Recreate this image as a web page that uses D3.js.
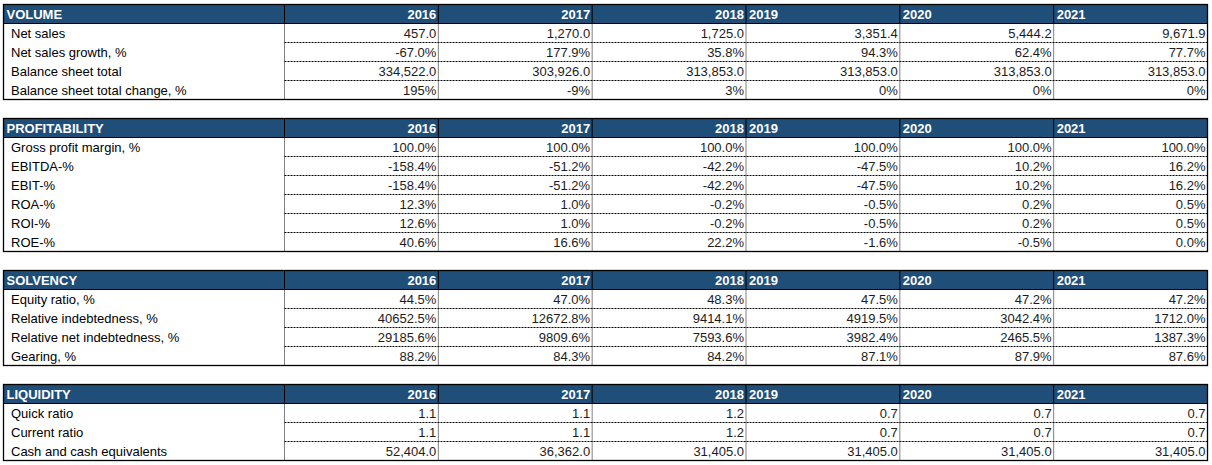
<!DOCTYPE html>
<html>
<head>
<meta charset="utf-8">
<script src="https://cdn.jsdelivr.net/npm/d3@7/dist/d3.min.js"></script>
<style>
  html, body { margin: 0; padding: 0; background: #fff; }
  svg { display: block; }
  text { font-family: "Liberation Sans", Arial, sans-serif; }
</style>
</head>
<body>
<svg id="chart" width="1212" height="465"></svg>
<script>
// ---------- DATA ----------
const years = ["2016", "2017", "2018", "2019", "2020", "2021"];
const yearAlign = ["right", "right", "right", "left", "left", "left"];

const sectionTitles = ["VOLUME", "PROFITABILITY", "SOLVENCY", "LIQUIDITY"];

const volumeLabels = ["Net sales", "Net sales growth, %", "Balance sheet total", "Balance sheet total change, %"];
const volumeFormats = ["num1", "pct1", "num1", "pct0"];
const volumeValues = [
  [457.0, 1270.0, 1725.0, 3351.4, 5444.2, 9671.9],
  [-67.0, 177.9, 35.8, 94.3, 62.4, 77.7],
  [334522.0, 303926.0, 313853.0, 313853.0, 313853.0, 313853.0],
  [195, -9, 3, 0, 0, 0]
];

const profitabilityLabels = ["Gross profit margin, %", "EBITDA-%", "EBIT-%", "ROA-%", "ROI-%", "ROE-%"];
const profitabilityFormats = ["pct1", "pct1", "pct1", "pct1", "pct1", "pct1"];
const profitabilityValues = [
  [100.0, 100.0, 100.0, 100.0, 100.0, 100.0],
  [-158.4, -51.2, -42.2, -47.5, 10.2, 16.2],
  [-158.4, -51.2, -42.2, -47.5, 10.2, 16.2],
  [12.3, 1.0, -0.2, -0.5, 0.2, 0.5],
  [12.6, 1.0, -0.2, -0.5, 0.2, 0.5],
  [40.6, 16.6, 22.2, -1.6, -0.5, 0.0]
];

const solvencyLabels = ["Equity ratio, %", "Relative indebtedness, %", "Relative net indebtedness, %", "Gearing, %"];
const solvencyFormats = ["pct1", "pct1", "pct1", "pct1"];
const solvencyValues = [
  [44.5, 47.0, 48.3, 47.5, 47.2, 47.2],
  [40652.5, 12672.8, 9414.1, 4919.5, 3042.4, 1712.0],
  [29185.6, 9809.6, 7593.6, 3982.4, 2465.5, 1387.3],
  [88.2, 84.3, 84.2, 87.1, 87.9, 87.6]
];

const liquidityLabels = ["Quick ratio", "Current ratio", "Cash and cash equivalents"];
const liquidityFormats = ["num1", "num1", "num1"];
const liquidityValues = [
  [1.1, 1.1, 1.2, 0.7, 0.7, 0.7],
  [1.1, 1.1, 1.2, 0.7, 0.7, 0.7],
  [52404.0, 36362.0, 31405.0, 31405.0, 31405.0, 31405.0]
];

const sections = [
  { title: sectionTitles[0], labels: volumeLabels, formats: volumeFormats, values: volumeValues },
  { title: sectionTitles[1], labels: profitabilityLabels, formats: profitabilityFormats, values: profitabilityValues },
  { title: sectionTitles[2], labels: solvencyLabels, formats: solvencyFormats, values: solvencyValues },
  { title: sectionTitles[3], labels: liquidityLabels, formats: liquidityFormats, values: liquidityValues }
];

// ---------- FORMATTERS ----------
const fmts = {
  num1: d3.format(",.1f"),
  pct1: v => d3.format(".1f")(v) + "%",
  pct0: v => d3.format(".0f")(v) + "%"
};
const fmt = (key, v) => fmts[key](v).replace("\u2212", "-");

// ---------- LAYOUT ----------
const svg = d3.select("#chart");
const rowH = 19;
const top0 = 4.5;
const labelLeft = 3.5, labelRight = 284.5, tableRight = 1207.5;

// row index -> y (every section followed by a blank row)
let totalRows = 0;
sections.forEach(s => { s.startRow = totalRows; totalRows += 1 + s.labels.length + 1; });
const y = d3.scaleLinear().domain([0, totalRows]).range([top0, top0 + totalRows * rowH]);
// column index -> x for the six year columns
const x = d3.scaleLinear().domain([0, years.length]).range([labelRight, tableRight]);

const headerFill = "#1f4e79";
const valueColor = "#1c1c1c";
const fontSize = 13;

sections.forEach(s => {
  const g = svg.append("g");
  const yTop = y(s.startRow);
  const yHeadBottom = y(s.startRow + 1);
  const yBottom = y(s.startRow + 1 + s.labels.length);

  g.append("rect")
    .attr("x", labelLeft).attr("y", yTop)
    .attr("width", tableRight - labelLeft).attr("height", yHeadBottom - yTop)
    .attr("fill", headerFill);

  g.append("text")
    .attr("x", labelLeft + 3).attr("y", (yTop + yHeadBottom) / 2)
    .attr("dy", "0.36em")
    .attr("font-size", fontSize).attr("font-weight", "bold")
    .attr("fill", "#fff")
    .text(s.title);

  g.selectAll("text.year").data(years).join("text")
    .attr("class", "year")
    .attr("x", (d, i) => yearAlign[i] === "right" ? x(i + 1) - 2 : x(i) + 3)
    .attr("y", (yTop + yHeadBottom) / 2)
    .attr("dy", "0.36em")
    .attr("text-anchor", (d, i) => yearAlign[i] === "right" ? "end" : "start")
    .attr("font-size", fontSize).attr("font-weight", "bold")
    .attr("fill", "#fff")
    .text(d => d);

  g.selectAll("line.hsep").data(d3.range(0, years.length)).join("line")
    .attr("class", "hsep")
    .attr("x1", i => x(i)).attr("x2", i => x(i))
    .attr("y1", yTop).attr("y2", yHeadBottom)
    .attr("stroke", "#000").attr("stroke-width", 1);

  g.append("line")
    .attr("x1", labelLeft).attr("x2", tableRight)
    .attr("y1", yHeadBottom).attr("y2", yHeadBottom)
    .attr("stroke", "#000").attr("stroke-width", 1);

  g.selectAll("line.hdash").data(d3.range(1, s.labels.length)).join("line")
    .attr("class", "hdash")
    .attr("x1", labelRight).attr("x2", tableRight)
    .attr("y1", r => y(s.startRow + 1 + r)).attr("y2", r => y(s.startRow + 1 + r))
    .attr("stroke", "#000").attr("stroke-width", 1)
    .attr("stroke-dasharray", "2,1");

  g.selectAll("line.vdot").data(d3.range(0, years.length)).join("line")
    .attr("class", "vdot")
    .attr("x1", i => x(i)).attr("x2", i => x(i))
    .attr("y1", yHeadBottom).attr("y2", yBottom)
    .attr("stroke", "#000").attr("stroke-width", 1)
    .attr("stroke-dasharray", "1,1");

  g.selectAll("text.label").data(s.labels).join("text")
    .attr("class", "label")
    .attr("x", labelLeft + 7.5)
    .attr("y", (d, r) => (y(s.startRow + 1 + r) + y(s.startRow + 2 + r)) / 2)
    .attr("dy", "0.36em")
    .attr("font-size", fontSize)
    .attr("fill", "#000")
    .text(d => d);

  const cells = [];
  s.values.forEach((row, r) => row.forEach((v, c) => cells.push({ r, c, v, f: s.formats[r] })));
  g.selectAll("text.val").data(cells).join("text")
    .attr("class", "val")
    .attr("x", d => x(d.c + 1) - 2)
    .attr("y", d => (y(s.startRow + 1 + d.r) + y(s.startRow + 2 + d.r)) / 2)
    .attr("dy", "0.36em")
    .attr("text-anchor", "end")
    .attr("font-size", fontSize)
    .attr("fill", valueColor)
    .text(d => fmt(d.f, d.v));

  g.append("rect")
    .attr("x", labelLeft).attr("y", yTop)
    .attr("width", tableRight - labelLeft).attr("height", yBottom - yTop)
    .attr("fill", "none").attr("stroke", "#000").attr("stroke-width", 1.3);
});
</script>
</body>
</html>
